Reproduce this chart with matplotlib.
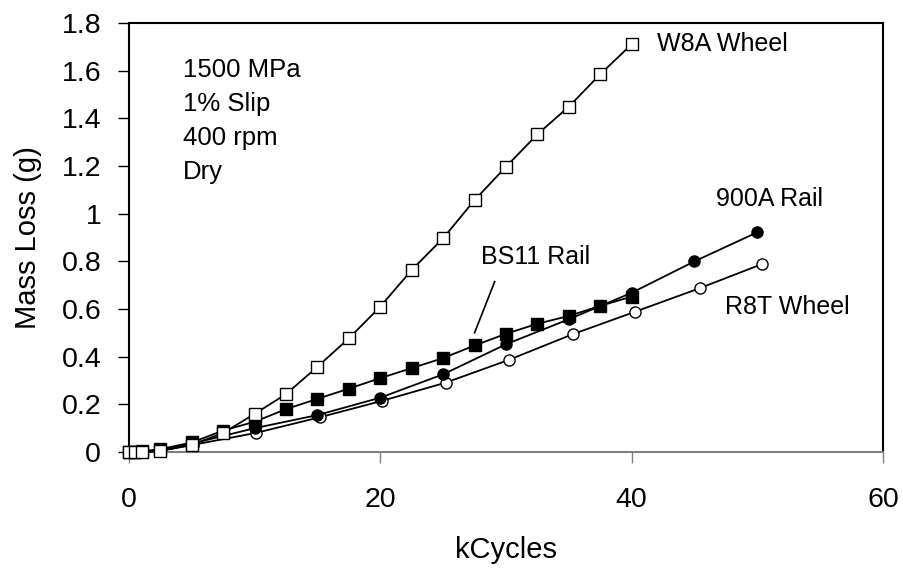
import matplotlib
matplotlib.use("Agg")
import matplotlib.pyplot as plt

plt.rcParams['font.family'] = ['Liberation Sans', 'DejaVu Sans']

# wear data, mass loss (g) vs kCycles
w8a_x = [0, 0.5, 1, 2.5, 5, 7.5, 10, 12.5, 15, 17.5, 20, 22.5, 25, 27.5, 30, 32.5, 35, 37.5, 40]
w8a_y = [0, 0, 0, 0.005, 0.03, 0.08, 0.16, 0.243, 0.358, 0.477, 0.61, 0.764, 0.897, 1.057,
         1.197, 1.333, 1.449, 1.585, 1.711]

bs11_x = [0, 0.5, 1, 2.5, 5, 7.5, 10, 12.5, 15, 17.5, 20, 22.5, 25, 27.5, 30, 32.5, 35, 37.5, 40]
bs11_y = [0, 0, 0.003, 0.012, 0.04, 0.09, 0.127, 0.18, 0.223, 0.266, 0.31, 0.352, 0.394, 0.447,
          0.496, 0.538, 0.571, 0.613, 0.652]

r900a_x = [0, 0.5, 1, 2.5, 5, 10, 15, 20, 25, 30, 35, 40, 45, 50]
r900a_y = [0, 0, 0, 0.005, 0.035, 0.1, 0.155, 0.228, 0.326, 0.452, 0.557, 0.668, 0.80, 0.922]

r8t_x = [0, 0.5, 1, 2.5, 5.1, 10.1, 15.2, 20.1, 25.2, 30.2, 35.3, 40.3, 45.4, 50.4]
r8t_y = [0, 0, 0, 0.005, 0.03, 0.08, 0.146, 0.214, 0.291, 0.386, 0.494, 0.589, 0.687, 0.789]

x_ticks = [0, 20, 40, 60]
y_ticks = [0, 0.2, 0.4, 0.6, 0.8, 1, 1.2, 1.4, 1.6, 1.8]
y_tick_labels = ["0", "0.2", "0.4", "0.6", "0.8", "1", "1.2", "1.4", "1.6", "1.8"]

conditions = ["1500 MPa", "1% Slip", "400 rpm", "Dry"]

W, H = 904, 569
fig = plt.figure(figsize=(W / 100, H / 100), dpi=100)
ax = fig.add_axes([129 / W, 1 - 452 / H, (883 - 129) / W, (452 - 23) / H])

common = dict(color="black", lw=1.3, markersize=8, markeredgewidth=1.0, clip_on=False)
ax.plot(r8t_x, r8t_y, marker="o", markerfacecolor="white", markeredgecolor="black", zorder=3, **common)
ax.plot(r900a_x, r900a_y, marker="o", markerfacecolor="black", markeredgecolor="black", zorder=4, **common)
ax.plot(bs11_x, bs11_y, marker="s", markerfacecolor="black", markeredgecolor="black", zorder=5, **common)
ax.plot(w8a_x, w8a_y, marker="s", markerfacecolor="white", markeredgecolor="black", zorder=6, **common)

ax.set_xlim(0, 60)
ax.set_ylim(0, 1.8)
ax.set_xticks(x_ticks)
ax.set_xticklabels([str(v) for v in x_ticks])
ax.set_yticks(y_ticks)
ax.set_yticklabels(y_tick_labels)

ax.tick_params(axis="y", direction="out", length=8, width=1, pad=12, labelsize=20.5)
ax.tick_params(axis="x", direction="out", length=8, width=1, pad=17, labelsize=20.5, color="#808080")
for s in ["left", "top", "right"]:
    ax.spines[s].set_color("black")
    ax.spines[s].set_linewidth(1.5)
ax.spines["bottom"].set_color("#808080")
ax.spines["bottom"].set_linewidth(1.5)

ax.set_xlabel("kCycles", fontsize=21, labelpad=17)
ax.set_ylabel("Mass Loss (g)", fontsize=21, labelpad=14)

# annotation block (pixel positions from top-left)
for i, t in enumerate(conditions):
    fig.text(183 / W, 1 - (70 + 34 * i) / H, t, fontsize=18.5, va="center", ha="left")

ax.text(42.0, 1.711, "W8A Wheel", fontsize=18, va="center", ha="left")
ax.text(46.7, 1.06, "900A Rail", fontsize=18, va="center", ha="left")
ax.text(47.4, 0.61, "R8T Wheel", fontsize=18, va="center", ha="left")
ax.text(28.0, 0.82, "BS11 Rail", fontsize=18, va="center", ha="left")
ax.plot([29.1, 27.5], [0.715, 0.50], color="black", lw=1.2)

fig.savefig("out.png", dpi=100)
